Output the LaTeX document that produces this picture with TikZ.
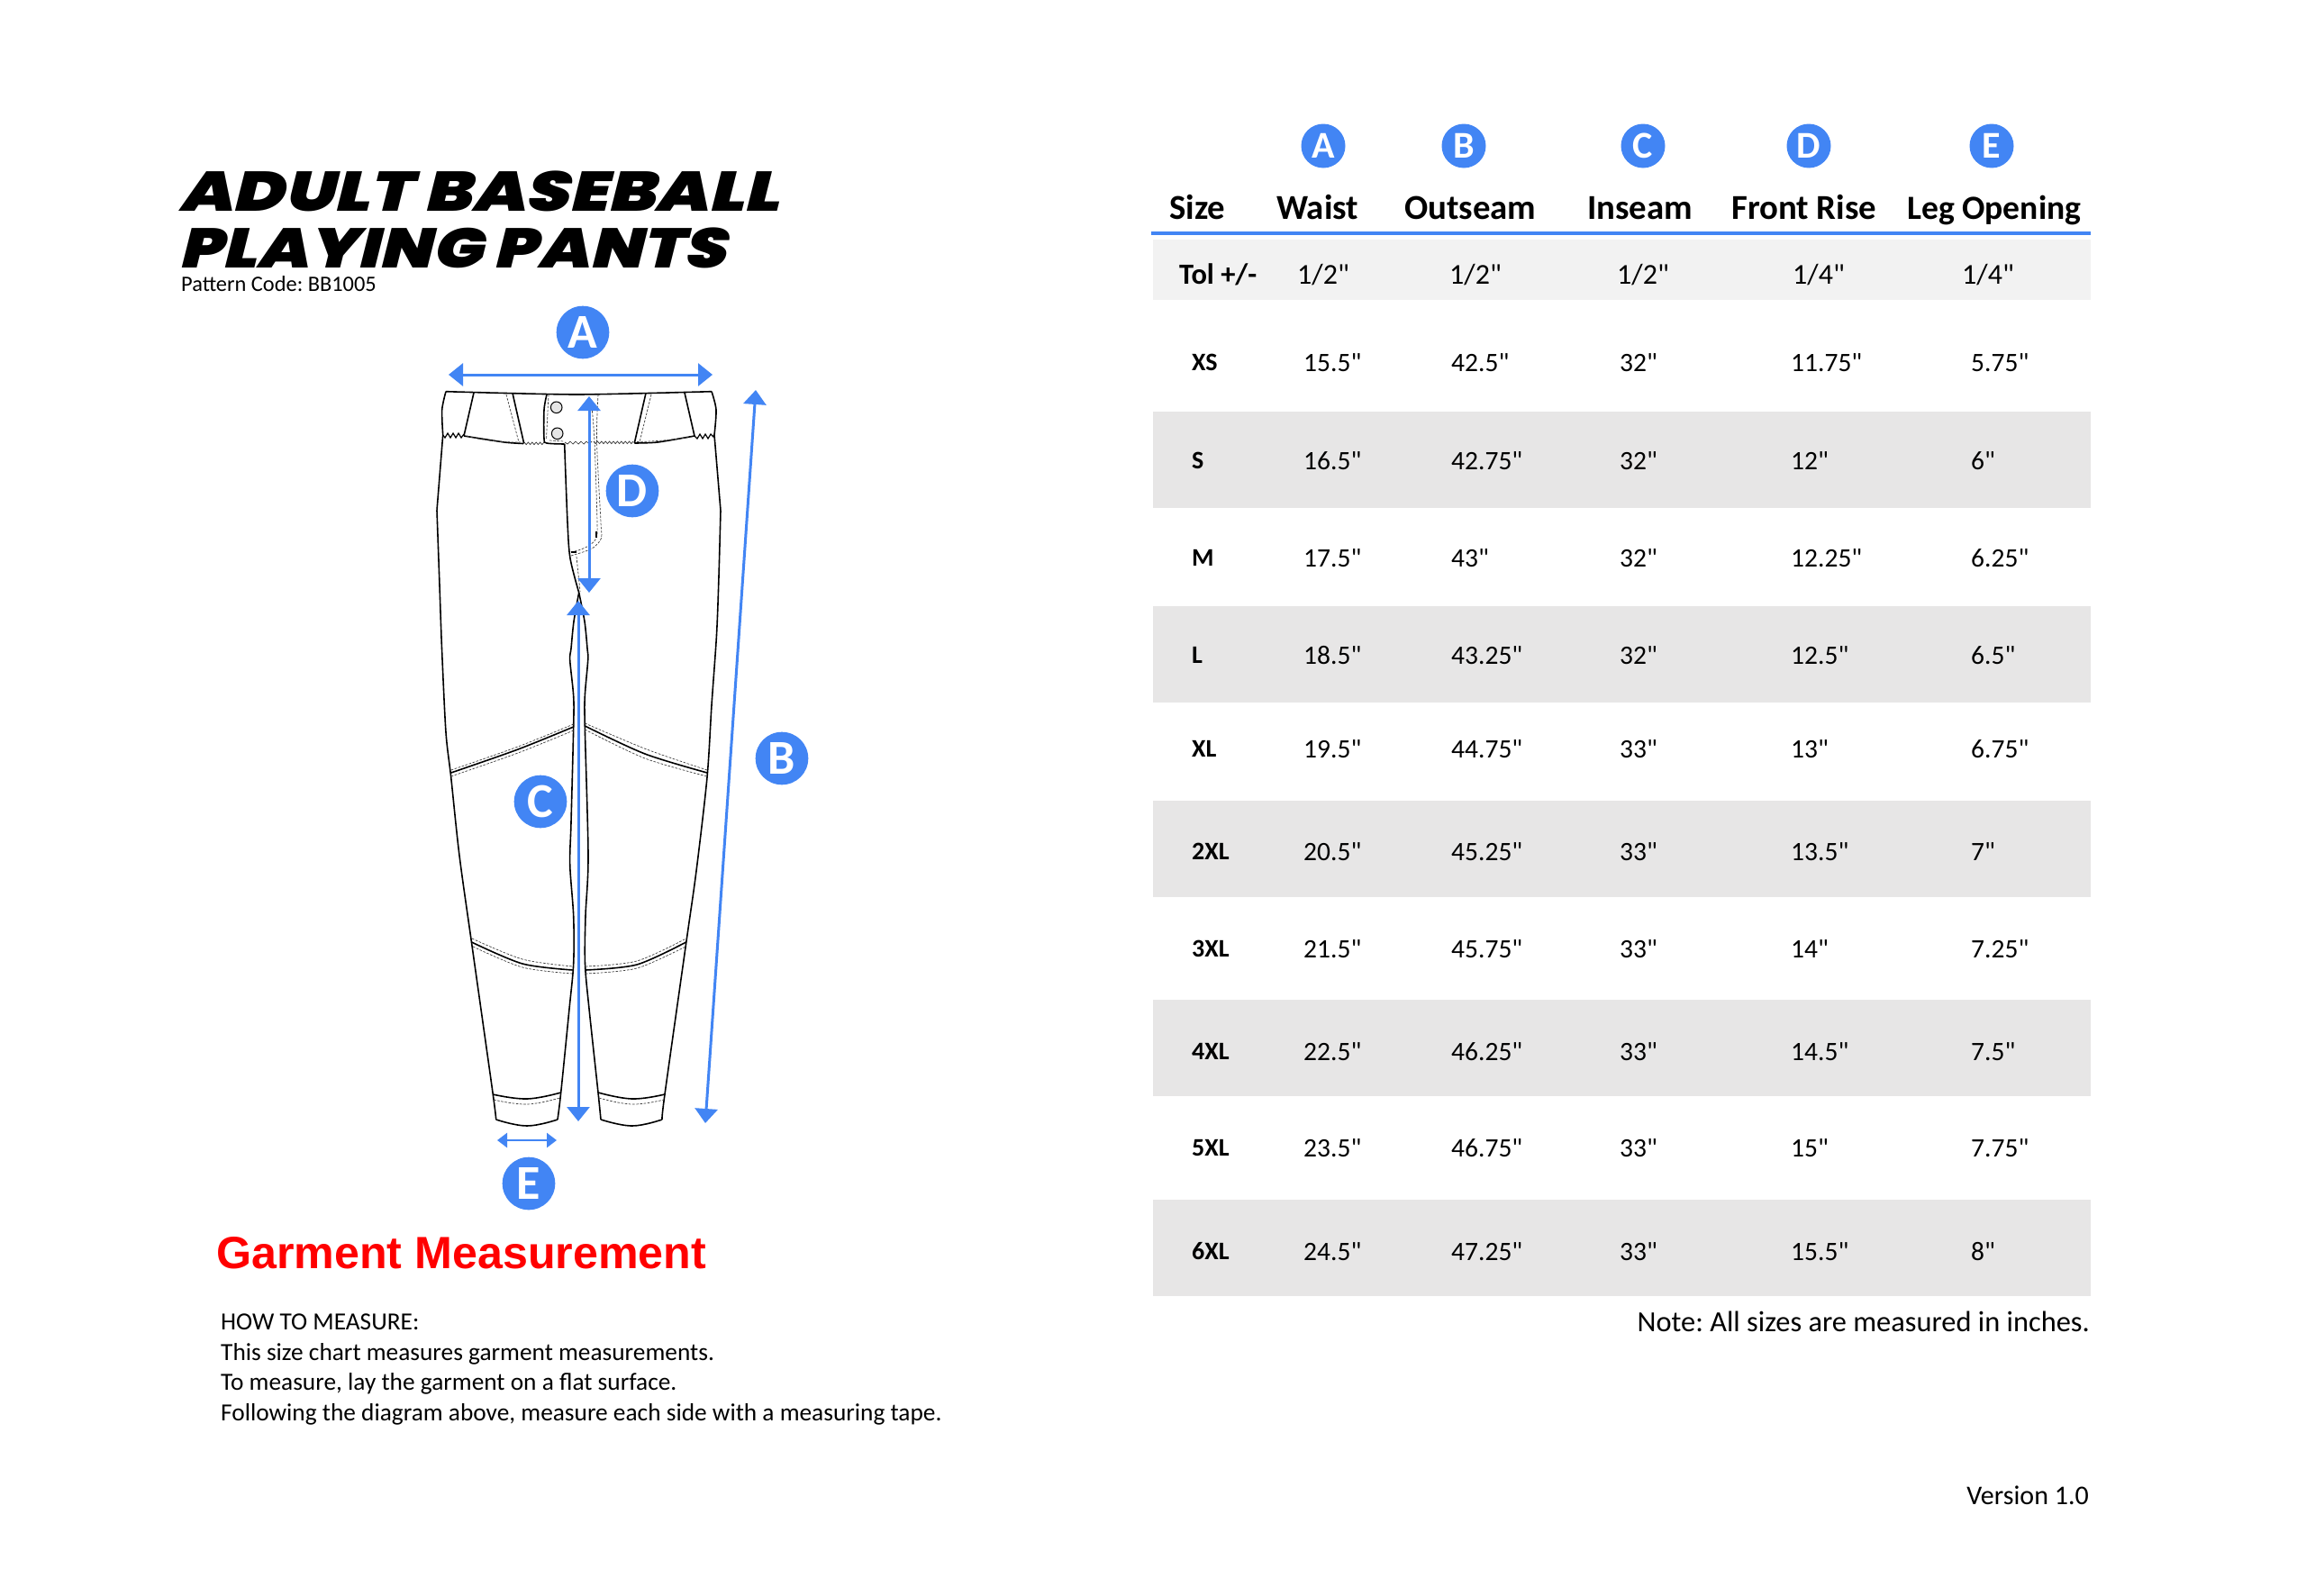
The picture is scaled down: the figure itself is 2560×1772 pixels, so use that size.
\documentclass[tikz,border=0pt]{standalone}
\usepackage{fontspec}
\usetikzlibrary{arrows.meta}
\newfontfamily\cf{Carlito}
\setmainfont{Carlito}
\newfontfamily\titlefont{Poppins Black}[FakeSlant=0.25,FakeStretch=1.245]
\newfontfamily\titlefontb{Poppins Black}[FakeSlant=0.25,FakeStretch=1.205]
\newfontfamily\libsans{Liberation Sans}
\definecolor{mblue}{HTML}{4285F4}
\definecolor{bandA}{HTML}{F2F2F2}
\definecolor{bandB}{HTML}{E7E6E6}
\tikzset{
 x=1pt,y=-1pt,
 outl/.style={draw=black,line width=1.6pt,line join=round},
 thin seam/.style={draw=black,line width=1pt},
 stitch/.style={draw=black!75,line width=.7pt,dash pattern=on 2.6pt off 1.6pt},
 zig/.style={draw=black!80,line width=.7pt},
 zigb/.style={draw=black,line width=1.2pt},
 meas/.style={draw=mblue,line width=3pt,{Triangle[length=16pt,width=25pt]}-{Triangle[length=16pt,width=25pt]}},
 measE/.style={draw=mblue,line width=2.6pt,{Triangle[length=11pt,width=16pt]}-{Triangle[length=11pt,width=16pt]}},
 bigc/.style={circle,fill=mblue,text=white,inner sep=0pt,minimum size=58.6pt,font=\fontsize{54}{54}\cf\bfseries},
 smallc/.style={circle,fill=mblue,text=white,inner sep=0pt,minimum size=49pt,font=\fontsize{42}{42}\cf\bfseries},
 hd/.style={anchor=base west,inner sep=0pt,font=\fontsize{38.8}{40}\cf\bfseries},
 hdl/.style={anchor=base west,inner sep=0pt,font=\fontsize{37.6}{40}\cf\bfseries},
 val/.style={anchor=base west,inner sep=0pt,font=\fontsize{29.5}{34}\cf},
 lab/.style={anchor=base west,inner sep=0pt,font=\fontsize{28}{34}\cf\bfseries},
 tolv/.style={anchor=base west,inner sep=0pt,font=\fontsize{32}{36}\cf},
 tolb/.style={anchor=base west,inner sep=0pt,font=\fontsize{32.5}{36}\cf\bfseries},
 howto/.style={anchor=base west,inner sep=0pt,font=\fontsize{27.35}{32}\cf},
 ttl/.style={anchor=base west,inner sep=0pt,font=\fontsize{62}{62}\titlefont},
 ttlb/.style={anchor=base west,inner sep=0pt,font=\fontsize{62}{62}\titlefontb},
}
\begin{document}
\begin{tikzpicture}
\frenchspacing
\path[use as bounding box,fill=white] (0,0) rectangle (2560,1772);

% title
\node[ttl] (t1) at (198,234) {ADULT BASEBALL};
\node[ttlb] (t2) at (198,297) {PLAYING PANTS};
\node[anchor=base west,inner sep=0pt,font=\fontsize{24.4}{30}\cf] (pc) at (201,323) {Pattern Code: BB1005};

% pants outline
\draw[outl] plot[smooth,tension=.5] coordinates {(495,434.7) (490.7,455) (491.7,483)};
\draw[outl] plot[smooth,tension=.35] coordinates {(491.7,483) (485,566.7)};
\draw[outl] plot[smooth,tension=.5] coordinates {(485,566.7) (488,650) (490.5,720) (495,813) (500.7,863) (510,950) (524,1050) (547,1213) (550.7,1243)};
\draw[outl] plot[smooth,tension=.7] coordinates {(550.7,1243) (585,1250) (619,1243)};
\draw[outl] plot[smooth,tension=.5] coordinates {(619,1243) (622.7,1213) (632,1120) (636.7,1070) (636.7,1017) (632.7,960) (634,913) (636.7,807) (636.7,773) (632.7,733) (634,720) (637,690) (642.7,658)};
\draw[outl] plot[smooth,tension=.5] coordinates {(642.7,658) (633,620) (630,580) (626.7,493)};
\draw[outl] plot[smooth,tension=.5] coordinates {(790,434.7) (795,455) (793,483)};
\draw[outl] plot[smooth,tension=.35] coordinates {(793,483) (800,566.7)};
\draw[outl] plot[smooth,tension=.5] coordinates {(800,566.7) (798,640) (795.5,705) (790,783) (785,863) (773,967) (761.7,1047) (738,1215) (735,1243)};
\draw[outl] plot[smooth,tension=.7] coordinates {(735,1243) (701.7,1250) (667,1243)};
\draw[outl] plot[smooth,tension=.5] coordinates {(667,1243) (664,1213) (654,1120) (649.5,1070) (650,1017) (653,950) (649.3,807) (649.3,773) (652.7,733) (652,720) (649,690) (642.7,658)};
% waist
\draw[outl] plot[smooth,tension=.4] coordinates {(495,434.7) (640,438) (790,434.7)};
% pockets
\draw[outl] (526,436) -- (515,484);
\draw[outl] plot[smooth,tension=.4] coordinates {(515,484) (560,491) (581,492.5)};
\draw[outl] (569,436.5) -- (581.7,492.5);
\draw[stitch] (562,438) -- (576,491);
\draw[stitch] (518,484) .. controls (540,490) and (560,491) .. (578,491);
\draw[outl] (717,436.5) -- (704.3,492);
\draw[outl] (760,436) -- (771,484);
\draw[outl] plot[smooth,tension=.4] coordinates {(704.3,492) (730,491) (771,484)};
\draw[stitch] (723,438) -- (710,491);
\draw[stitch] (707,490.5) .. controls (730,490) and (750,488) .. (768,485);
% waist seam zigzag
\draw[zigb] (491.7,483) -- (494,486)--(497,481)--(500,486)--(503,481)--(506,486)--(509,481)--(512,486)--(515,482);
\draw[zigb] (771,484) -- (774,487)--(777,482)--(780,487)--(783,482)--(786,487)--(789,482)--(792,485)--(793,482);
\draw[zig] (582,491) \foreach \i in {1,...,10} {-- ++(2.2,{mod(\i,2)==1 ? 2.6 : -2.6})};
\draw[zig] (659,490) \foreach \i in {1,...,20} {-- ++(2.2,{mod(\i,2)==1 ? 2.6 : -2.6})};
% fly placket
\draw[outl] plot[smooth,tension=.5] coordinates {(607,438) (604,455) (604,487) (607,492) (626.7,493)};
\draw[zig] (627,491) -- (630,493)--(633,490)--(636,493)--(639,490)--(642,493)--(645,490)--(648,493)--(651,490)--(654,493)--(657,490);
\draw[stitch] (609,438) -- (606.5,488);
\draw[stitch] (610,489) -- (626,490);
\draw[thin seam,fill=black!10] (617.7,452.3) circle (6.3);
\draw[thin seam,fill=black!10] (618.7,481.3) circle (6.3);
% fly stitching
\draw[stitch] plot[smooth,tension=.5] coordinates {(664,438) (662.5,490) (667,580) (667.7,597) (660,607) (650,612) (634,617)};
\draw[stitch] plot[smooth,tension=.5] coordinates {(657,452) (660,490) (663,580) (662,597) (655,605) (645,610) (634,613)};
\draw[line width=1.6pt] (633.5,613) -- (640,613);
\draw[line width=1.8pt] (661.7,590) -- (661.7,597);
\draw[stitch] (640,618) -- (644,657);

% knee seams
\draw[outl] plot[smooth,tension=.5] coordinates {(500.7,858) (575,832) (636.7,807)};
\draw[stitch] plot[smooth,tension=.5] coordinates {(500.7,855) (575,829) (636.7,804)};
\draw[stitch] plot[smooth,tension=.5] coordinates {(500.7,862) (575,836) (636.7,811)};
\draw[outl] plot[smooth,tension=.5] coordinates {(649.3,806) (716,837) (785,858)};
\draw[stitch] plot[smooth,tension=.5] coordinates {(649.3,803) (718,832) (785,855)};
\draw[stitch] plot[smooth,tension=.5] coordinates {(649.3,810) (716,842) (785,862)};
\draw[outl] plot[smooth,tension=.5] coordinates {(523.5,1046) (580,1070) (635.7,1077)};
\draw[stitch] plot[smooth,tension=.5] coordinates {(524,1042) (580,1065) (635.7,1073)};
\draw[stitch] plot[smooth,tension=.5] coordinates {(525,1051) (580,1074) (635.7,1081)};
\draw[outl] plot[smooth,tension=.5] coordinates {(650,1077) (707,1071) (761.7,1046)};
\draw[stitch] plot[smooth,tension=.5] coordinates {(650,1073) (707,1067) (761.7,1042)};
\draw[stitch] plot[smooth,tension=.5] coordinates {(650,1081) (707,1075) (761,1051)};
% cuffs
\draw[outl] plot[smooth,tension=.7] coordinates {(547,1215) (585,1220) (622.7,1213)};
\draw[stitch] plot[smooth,tension=.7] coordinates {(548,1221) (585,1226) (621.5,1219)};
\draw[outl] plot[smooth,tension=.7] coordinates {(664,1213) (701.7,1220) (738,1215)};
\draw[stitch] plot[smooth,tension=.7] coordinates {(665,1219) (701.7,1226) (737,1221)};

% measure arrows
\coordinate (aL) at (498,416); \coordinate (aR) at (791,416);
\coordinate (bT) at (839,433); \coordinate (bB) at (783,1247);
\coordinate (cT) at (642,667); \coordinate (cB) at (642,1245);
\coordinate (dT) at (654,440); \coordinate (dB) at (654,658);
\coordinate (eL) at (552,1266); \coordinate (eR) at (618,1266);
\draw[meas] (aL) -- (aR);
\draw[meas] (bT) -- (bB);
\draw[meas] (cT) -- (cB);
\draw[meas] (dT) -- (dB);
\draw[measE] (eL) -- (eR);
\node[bigc] (A) at (647,369) {A};
\node[bigc] (B) at (868,842) {B};
\node[bigc] (C) at (600,890) {C};
\node[bigc] (D) at (702,545) {D};
\node[bigc] (E) at (587,1314) {E};

% left texts
\node[anchor=base west,inner sep=0pt,text=red,font=\fontsize{50.2}{56}\libsans\bfseries] (gm) at (240,1408) {Garment Measurement};
\node[howto] (h1) at (245,1476) {HOW TO MEASURE:};
\node[howto] (h2) at (245,1510) {This size chart measures garment measurements.};
\node[howto] (h3) at (245,1543) {To measure, lay the garment on a flat surface.};
\node[howto] (h4) at (245,1577) {Following the diagram above, measure each side with a measuring tape.};

% table bands
\fill[bandA] (1280,266) rectangle (2321,333);
\foreach \a/\b in {457/564,673/780,889/996,1110/1217,1332/1439} \fill[bandB] (1280,\a) rectangle (2321,\b);
\coordinate (ruleL) at (1278,259); \coordinate (ruleR) at (2321,259);
\draw[mblue,line width=4.5pt] (ruleL) -- (ruleR);

% header
\node[smallc] (hA) at (1469,162) {A};
\node[smallc] (hB) at (1625,162) {B};
\node[smallc] (hC) at (1824,162) {C};
\node[smallc] (hD) at (2008,162) {D};
\node[smallc] (hE) at (2211,162) {E};
\node[hd] (h-size) at (1298,243) {Size};
\node[hd] (h-waist) at (1417,243) {Waist};
\node[hd] (h-out) at (1559,243) {Outseam};
\node[hd] (h-in) at (1762,243) {Inseam};
\node[hd] (h-rise) at (1922,243) {Front Rise};
\node[hdl] (h-leg) at (2117,243) {Leg Opening};

% tolerance
\node[tolb] (tol) at (1309,315) {Tol +/-};
\node[tolv] (tol-a) at (1440,315) {1/2"};
\node[tolv] (tol-b) at (1609,315) {1/2"};
\node[tolv] (tol-c) at (1795,315) {1/2"};
\node[tolv] (tol-d) at (1990,315) {1/4"};
\node[tolv] (tol-e) at (2178,315) {1/4"};

% rows
\foreach \y/\s/\a/\b/\c/\d/\e in {
 412/XS/15.5/42.5/32/11.75/5.75,
 521/S/16.5/42.75/32/12/6,
 629/M/17.5/43/32/12.25/6.25,
 737/L/18.5/43.25/32/12.5/6.5,
 841/XL/19.5/44.75/33/13/6.75,
 955/2XL/20.5/45.25/33/13.5/7,
 1063/3XL/21.5/45.75/33/14/7.25,
 1177/4XL/22.5/46.25/33/14.5/7.5,
 1284/5XL/23.5/46.75/33/15/7.75,
 1399/6XL/24.5/47.25/33/15.5/8}{
 \node[lab] (r\s) at (1323,\y-1) {\s};
 \node[val] (r\s-a) at (1447,\y) {\a"};
 \node[val] (r\s-b) at (1611,\y) {\b"};
 \node[val] (r\s-c) at (1798,\y) {\c"};
 \node[val] (r\s-d) at (1988,\y) {\d"};
 \node[val] (r\s-e) at (2188,\y) {\e"};
}

\node[anchor=base east,inner sep=0pt,font=\fontsize{32.4}{36}\cf] (note) at (2320,1478) {Note: All sizes are measured in inches.};
\node[anchor=base east,inner sep=0pt,font=\fontsize{30}{34}\cf] (ver) at (2319,1670) {Version 1.0};
\end{tikzpicture}
\end{document}
